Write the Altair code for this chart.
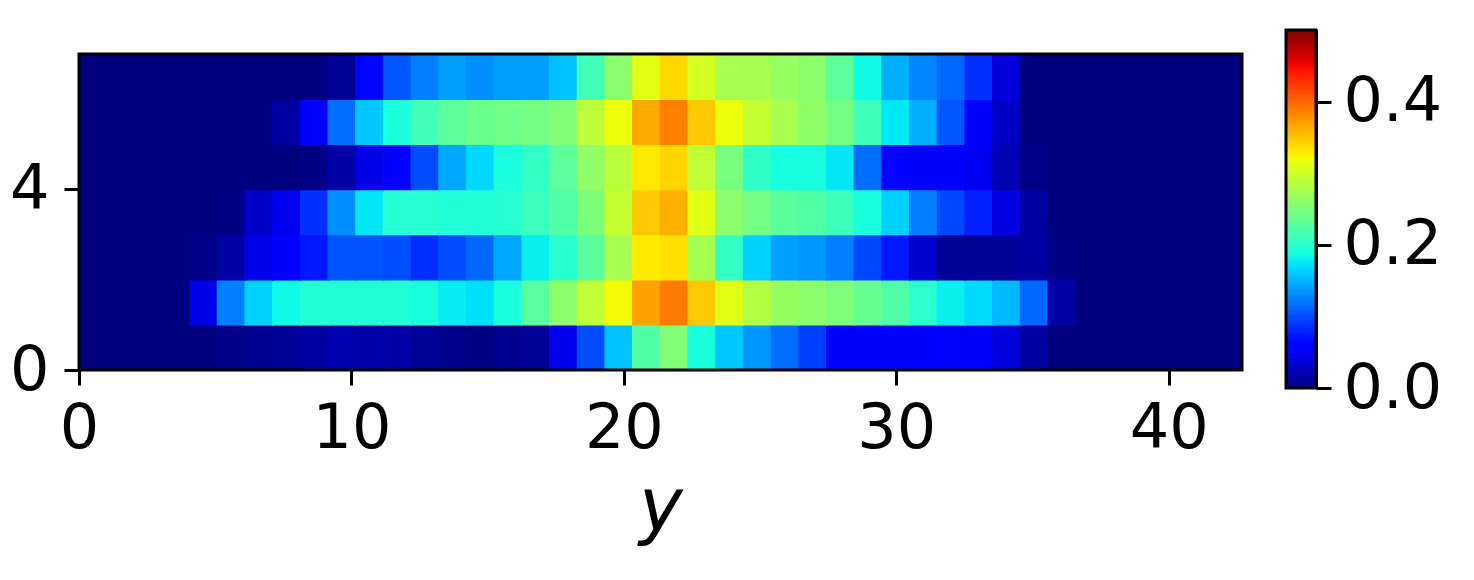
import numpy as np
import pandas as pd
import altair as alt

# ---- data: 7 rows (bottom to top) x 42 columns ----
ROW0 = [0, 0, 0, 0, 0.001, 0.004, 0.006, 0.010, 0.014, 0.020, 0.018, 0.016, 0.010, 0.005, 0.002,
        0.006, 0.010, 0.048, 0.100, 0.157, 0.224, 0.253, 0.190, 0.160, 0.137, 0.117, 0.094, 0.060,
        0.060, 0.060, 0.060, 0.063, 0.060, 0.038, 0.014, 0, 0, 0, 0, 0, 0, 0]
ROW1 = [0, 0, 0, 0, 0.045, 0.125, 0.165, 0.185, 0.195, 0.195, 0.195, 0.195, 0.190, 0.178, 0.172,
        0.190, 0.229, 0.260, 0.292, 0.322, 0.370, 0.390, 0.349, 0.311, 0.283, 0.265, 0.260, 0.250,
        0.237, 0.223, 0.200, 0.181, 0.169, 0.153, 0.113, 0.017, 0, 0, 0, 0, 0, 0]
ROW2 = [0, 0, 0, 0, 0.004, 0.017, 0.045, 0.060, 0.074, 0.104, 0.104, 0.102, 0.085, 0.100, 0.113,
        0.145, 0.180, 0.199, 0.229, 0.277, 0.331, 0.336, 0.275, 0.205, 0.166, 0.141, 0.137, 0.125,
        0.098, 0.074, 0.034, 0.010, 0.010, 0.011, 0.013, 0.003, 0, 0, 0, 0, 0, 0]
ROW3 = [0, 0, 0, 0, 0, 0.003, 0.031, 0.048, 0.086, 0.133, 0.176, 0.198, 0.198, 0.195, 0.195,
        0.199, 0.210, 0.224, 0.250, 0.295, 0.349, 0.362, 0.311, 0.260, 0.245, 0.230, 0.224, 0.212,
        0.190, 0.165, 0.125, 0.098, 0.078, 0.042, 0.014, 0, 0, 0, 0, 0, 0, 0]
ROW4 = [0, 0, 0, 0, 0, 0, 0, 0, 0.003, 0.017, 0.045, 0.060, 0.100, 0.145, 0.169,
        0.190, 0.205, 0.231, 0.263, 0.287, 0.332, 0.342, 0.292, 0.248, 0.204, 0.190, 0.190, 0.176,
        0.117, 0.060, 0.060, 0.058, 0.050, 0.022, 0.004, 0, 0, 0, 0, 0, 0, 0]
ROW5 = [0, 0, 0, 0, 0, 0, 0, 0.014, 0.060, 0.117, 0.160, 0.191, 0.214, 0.230, 0.240,
        0.243, 0.245, 0.253, 0.290, 0.318, 0.366, 0.387, 0.349, 0.318, 0.295, 0.277, 0.263, 0.245,
        0.212, 0.176, 0.149, 0.105, 0.060, 0.031, 0, 0, 0, 0, 0, 0, 0, 0]
ROW6 = [0, 0, 0, 0, 0, 0, 0, 0, 0, 0.011, 0.065, 0.105, 0.125, 0.141, 0.133,
        0.141, 0.141, 0.157, 0.214, 0.260, 0.313, 0.340, 0.304, 0.277, 0.277, 0.266, 0.259, 0.231,
        0.185, 0.149, 0.129, 0.113, 0.086, 0.038, 0, 0, 0, 0, 0, 0, 0, 0]
ROWS = [ROW0, ROW1, ROW2, ROW3, ROW4, ROW5, ROW6]

X_MAX = 42.69          # x extent of the image
Y_MAX = 7
X_TICKS = [0, 10, 20, 30, 40]
Y_TICKS = [0, 4]
CB_TICKS = [0.0, 0.2, 0.4]
VMAX = 0.5

# ---- jet colormap (matplotlib segment data) ----
JET_T = [0, 0.11, 0.125, 0.34, 0.35, 0.375, 0.64, 0.65, 0.66, 0.89, 0.91, 1.0]
R_PTS = ([0, 0.35, 0.66, 0.89, 1.0], [0, 0, 1, 1, 0.5])
G_PTS = ([0, 0.125, 0.375, 0.64, 0.91, 1.0], [0, 0, 1, 1, 0, 0])
B_PTS = ([0, 0.11, 0.34, 0.65, 1.0], [0.5, 1, 1, 0, 0])


def jet_hex(t):
    r = np.interp(t, *R_PTS)
    g = np.interp(t, *G_PTS)
    b = np.interp(t, *B_PTS)
    return "#{:02x}{:02x}{:02x}".format(int(round(r * 255)), int(round(g * 255)), int(round(b * 255)))


color_scale = alt.Scale(domain=[t * VMAX for t in JET_T],
                        range=[jet_hex(t) for t in JET_T], interpolate="rgb")

# ---- tables ----
ncol = len(ROW0)
cw = X_MAX / ncol
recs = []
for r, row in enumerate(ROWS):
    for c, v in enumerate(row):
        recs.append({"x0": c * cw, "x1": (c + 1) * cw, "y0": r, "y1": r + 1, "v": v})
df = pd.DataFrame(recs)

lv = np.linspace(0, VMAX, 251)
cdf = pd.DataFrame({"lo": lv[:-1], "hi": lv[1:], "mid": (lv[:-1] + lv[1:]) / 2})
frame_df = pd.DataFrame({"x0": [0], "x1": [X_MAX], "y0": [0], "y1": [Y_MAX]})
border_df = pd.DataFrame({"lo": [0.0], "hi": [VMAX]})

FONT = "DejaVu Sans"
W, H = 1163, 316

xscale = alt.Scale(domain=[0, X_MAX], nice=False, zero=False)
yscale = alt.Scale(domain=[0, Y_MAX], nice=False, zero=False)
cb_scale = alt.Scale(domain=[0, VMAX], range=[334, -24], nice=False, zero=False)

x_axis = alt.Axis(values=X_TICKS, title="y", labelFlush=False, labelPadding=13,
                  titleFont=FONT, titleFontStyle="italic", titleFontSize=74,
                  titleFontWeight="normal", titleColor="black",
                  titleBaseline="alphabetic", titleY=160)
y_axis = alt.Axis(values=Y_TICKS, title=None, orient="left", labelFlush=False, labelPadding=15)
cb_axis = alt.Axis(orient="right", offset=74, values=CB_TICKS, format=".1f", title=None,
                   domain=True, domainColor="black", domainWidth=3, labelFlush=False,
                   labelPadding=12)

heat = alt.Chart(df).mark_rect(strokeWidth=1.5).encode(
    x=alt.X("x0:Q", scale=xscale, axis=x_axis),
    x2="x1:Q",
    y=alt.Y("y0:Q", scale=yscale, axis=y_axis),
    y2="y1:Q",
    color=alt.Color("v:Q", scale=color_scale, legend=None),
    stroke=alt.Stroke("v:Q", scale=color_scale, legend=None),
)

frame = alt.Chart(frame_df).mark_rect(fillOpacity=0, stroke="black", strokeWidth=3).encode(
    x=alt.X("x0:Q", scale=xscale, axis=x_axis),
    x2="x1:Q",
    y=alt.Y("y0:Q", scale=yscale, axis=y_axis),
    y2="y1:Q",
)

cbar = alt.Chart(cdf).mark_rect(strokeWidth=1.0).encode(
    x=alt.value(1207), x2=alt.value(1237),
    y=alt.Y("lo:Q", scale=cb_scale, axis=cb_axis),
    y2="hi:Q",
    color=alt.Color("mid:Q", scale=color_scale, legend=None),
    stroke=alt.Stroke("mid:Q", scale=color_scale, legend=None),
)

border = alt.Chart(border_df).mark_rect(fillOpacity=0, stroke="black", strokeWidth=3).encode(
    x=alt.value(1207), x2=alt.value(1237),
    y=alt.Y("lo:Q", scale=cb_scale, axis=cb_axis),
    y2="hi:Q",
)

chart = alt.layer(
    alt.layer(heat, frame),
    alt.layer(cbar, border),
).resolve_scale(y="independent").properties(
    width=W, height=H,
    autosize=alt.AutoSizeParams(type="none"),
    padding={"left": 71, "top": 46, "right": 224, "bottom": 202},
).configure(font=FONT).configure_view(strokeWidth=0).configure_axis(
    labelFont=FONT, labelFontSize=62, labelColor="black", tickColor="black", tickWidth=3,
    tickSize=15, domain=False, grid=False, labelOverlap=False,
)

chart.save("out.html", embed_options={"renderer": "svg", "actions": False})
